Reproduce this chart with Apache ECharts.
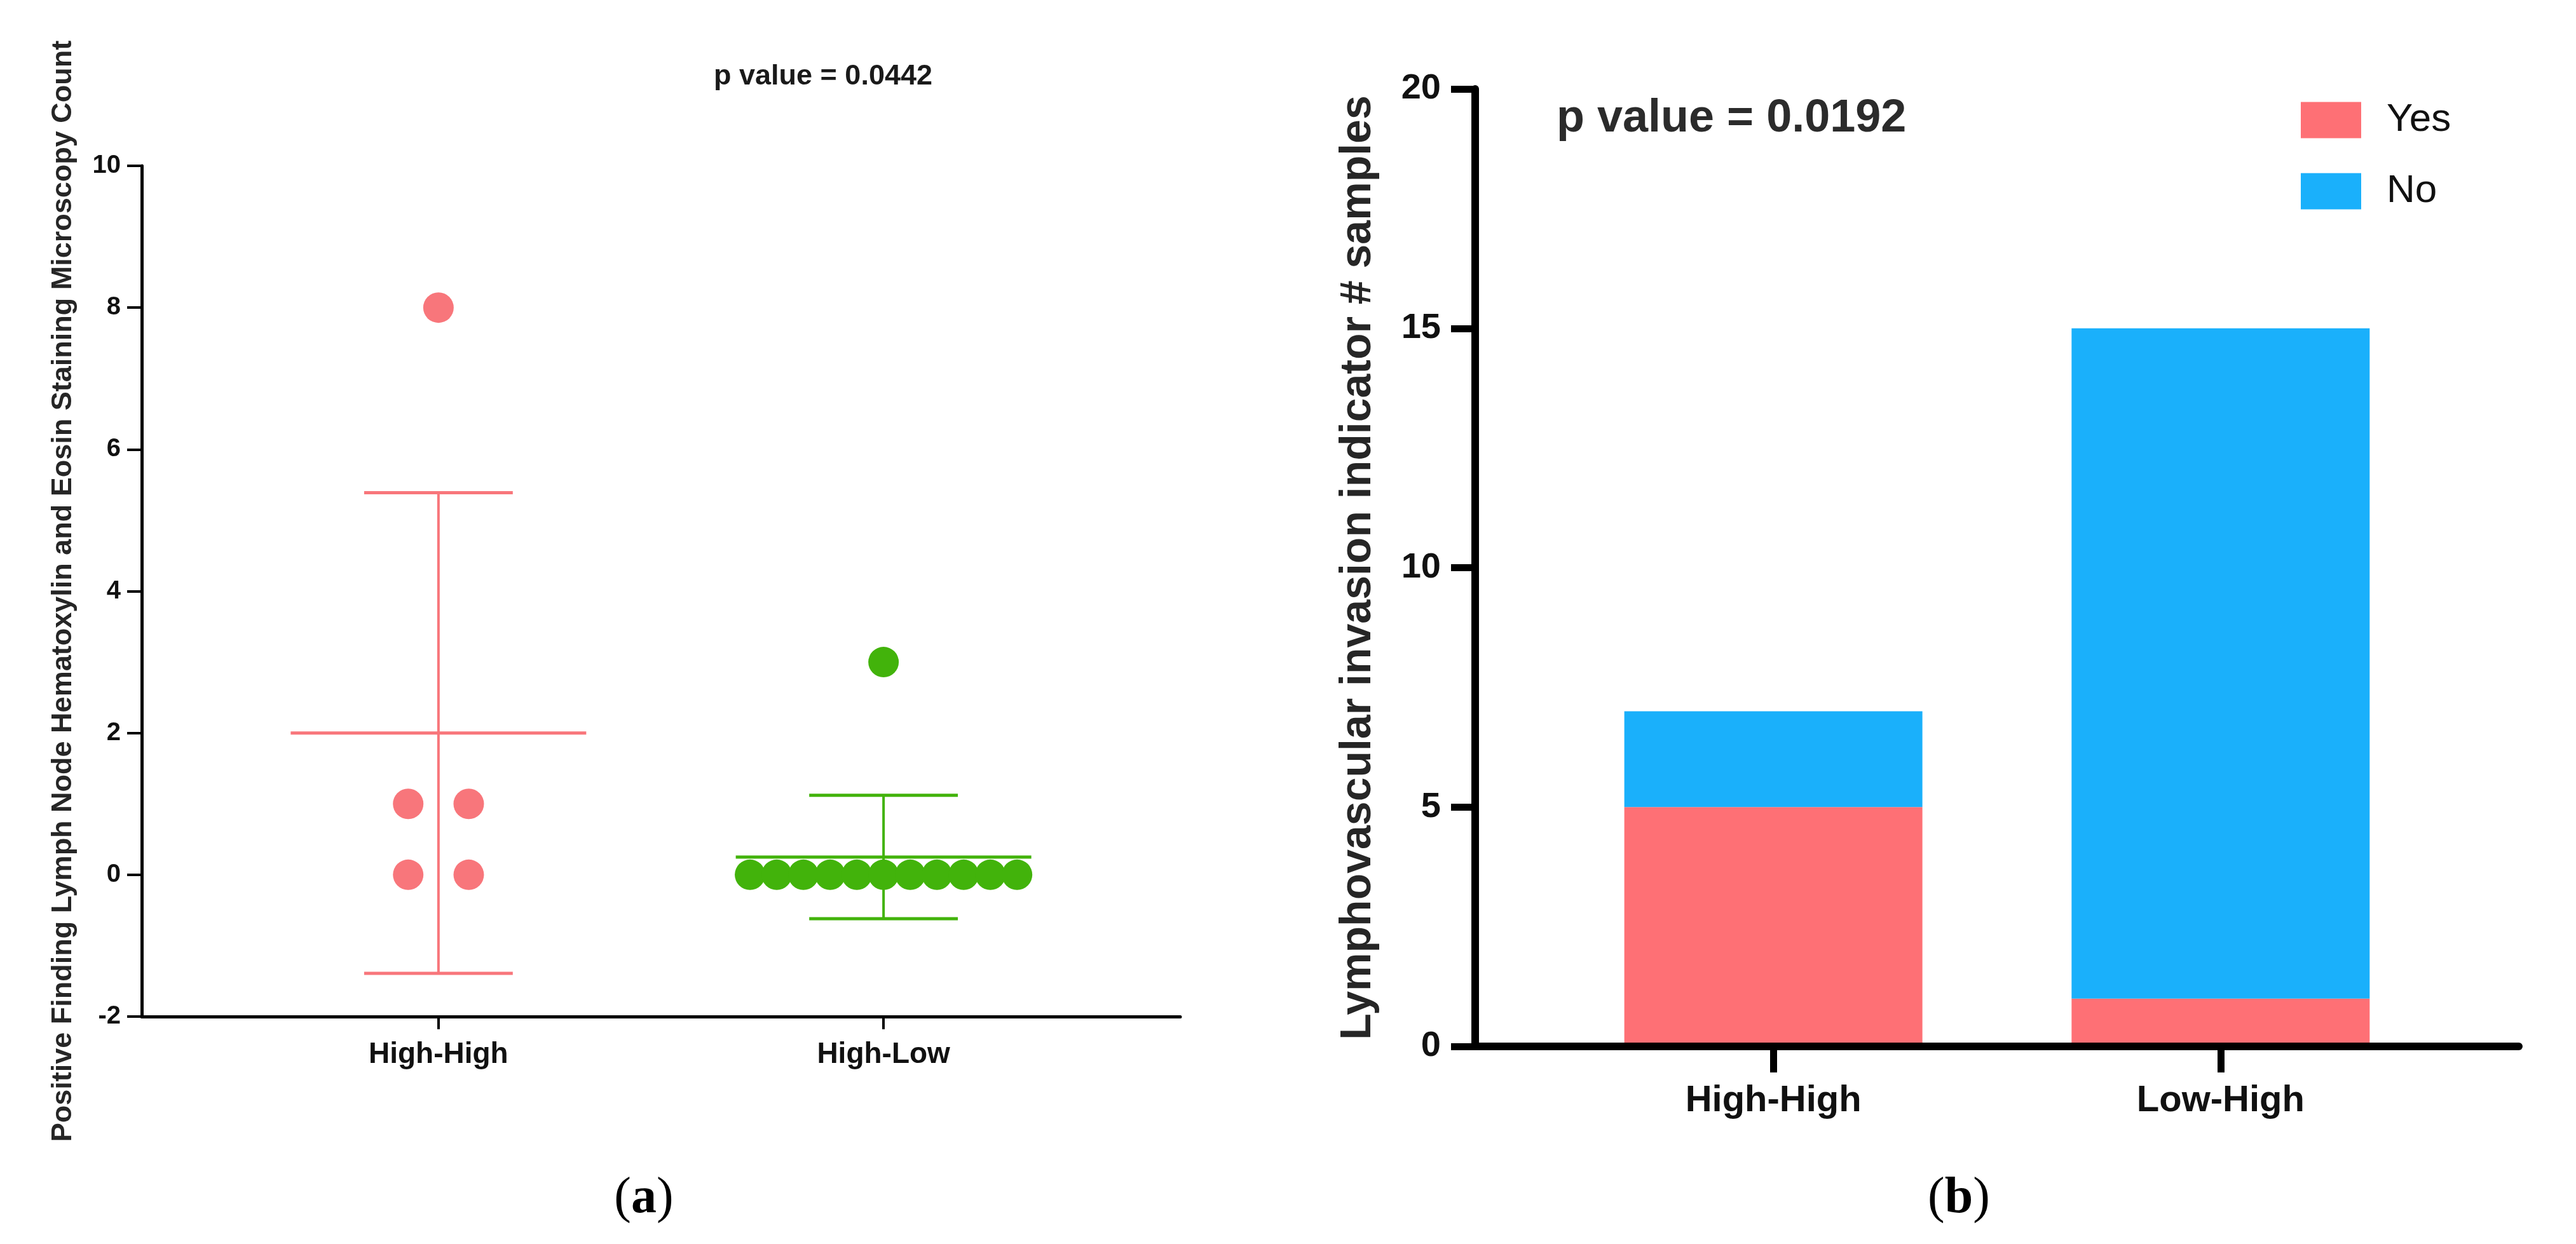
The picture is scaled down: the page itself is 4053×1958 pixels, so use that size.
<!DOCTYPE html>
<html><head><meta charset="utf-8">
<script src="https://cdn.jsdelivr.net/npm/echarts@6/dist/echarts.min.js"></script>
<style>html,body{margin:0;padding:0;background:#fff}#c{width:4053px;height:1958px}</style>
</head><body><div id="c"></div>
<script>
// ---- Panel (a) data ----
const groupsA = ['High-High', 'High-Low'];
const hhValues = [8, 1, 1, 0, 0];
const hhX = [1, 0.932, 1.068, 0.932, 1.068];
const hlValues = [3, 0, 0, 0, 0, 0, 0, 0, 0, 0, 0, 0];
const hlX = [2, 1.70, 1.76, 1.82, 1.88, 1.94, 2.00, 2.06, 2.12, 2.18, 2.24, 2.30];
const meanA = [2.0, 0.25];
const sdUpperA = [5.39, 1.12];
const sdLowerA = [-1.39, -0.62];
const yMinA = -2, yMaxA = 10, yStepA = 2;
const pTextA = 'p value = 0.0442';
const yTitleA = 'Positive Finding Lymph Node Hematoxylin and Eosin Staining Microscopy Count';

// ---- Panel (b) data ----
const groupsB = ['High-High', 'Low-High'];
const yesB = [5, 1];
const noB = [2, 14];
const yMinB = 0, yMaxB = 20, yStepB = 5;
const pTextB = 'p value = 0.0192';
const yTitleB = 'Lymphovascular invasion indicator # samples';

const colorsA = ['#F8767B', '#42B30B'];
const pinkB = '#FE7075', blueB = '#1AB0FB';
const FONT = 'Liberation Sans';

const chart = echarts.init(document.getElementById('c'), null, {renderer: 'canvas'});

const errData = groupsA.map((g, i) => [i + 1, meanA[i], sdUpperA[i], sdLowerA[i], i]);

function renderErr(params, api) {
  const x = api.value(0), m = api.value(1), u = api.value(2), l = api.value(3);
  const color = colorsA[api.value(4)];
  const pM = api.coord([x, m]), pU = api.coord([x, u]), pL = api.coord([x, l]);
  const s = api.size([1, 0])[0];
  const mw = 0.332 * s, cw = 0.167 * s;
  const st = (w) => ({stroke: color, lineWidth: w});
  return {type: 'group', children: [
    {type: 'line', shape: {x1: pU[0], y1: pU[1], x2: pL[0], y2: pL[1]}, style: st(4)},
    {type: 'line', shape: {x1: pM[0] - mw, y1: pM[1], x2: pM[0] + mw, y2: pM[1]}, style: st(5)},
    {type: 'line', shape: {x1: pU[0] - cw, y1: pU[1], x2: pU[0] + cw, y2: pU[1]}, style: st(5)},
    {type: 'line', shape: {x1: pL[0] - cw, y1: pL[1], x2: pL[0] + cw, y2: pL[1]}, style: st(5)}
  ]};
}

// bar data as [value, position] so the stacked dimension is the value (y)
const barData = (vals) => groupsB.map((g, i) => [vals[i], i + 1]);

const option = {
  backgroundColor: '#fff',
  animation: false,
  grid: [
    {left: 223, top: 261, width: 1634, height: 1339},
    {left: 2321, top: 140, width: 1642, height: 1507}
  ],
  xAxis: [
    {
      type: 'value', gridIndex: 0, min: 1 / 3, max: 8 / 3, z: 5,
      splitLine: {show: false},
      axisLine: {show: true, onZero: false, lineStyle: {color: '#000', width: 5}},
      axisTick: {show: true, customValues: [1, 2], length: 20, lineStyle: {color: '#000', width: 4}},
      axisLabel: {customValues: [1, 2], formatter: v => groupsA[Math.round(v) - 1],
        margin: 37, fontSize: 46, fontWeight: 'bold', color: '#111', fontFamily: FONT}
    },
    {
      type: 'value', gridIndex: 1, min: 1 / 3, max: 8 / 3, z: 5,
      splitLine: {show: false},
      axisLine: {show: true, onZero: false, lineStyle: {color: '#000', width: 12}},
      axisTick: {show: true, customValues: [1, 2], length: 41, lineStyle: {color: '#000', width: 11}},
      axisLabel: {customValues: [1, 2], formatter: v => groupsB[Math.round(v) - 1],
        margin: 57, fontSize: 58, fontWeight: 'bold', color: '#111', fontFamily: FONT}
    }
  ],
  yAxis: [
    {
      type: 'value', gridIndex: 0, min: yMinA, max: yMaxA, interval: yStepA, z: 5,
      splitLine: {show: false},
      axisLine: {show: true, onZero: false, lineStyle: {color: '#000', width: 5}},
      axisTick: {show: true, length: 23, lineStyle: {color: '#000', width: 4}},
      axisLabel: {margin: 33, fontSize: 40, fontWeight: 'bold', color: '#111', fontFamily: FONT},
      name: yTitleA, nameLocation: 'middle', nameGap: 101,
      nameTextStyle: {fontSize: 45, fontWeight: 'bold', color: '#262626', fontFamily: FONT}
    },
    {
      type: 'value', gridIndex: 1, min: yMinB, max: yMaxB, interval: yStepB, z: 5,
      splitLine: {show: false},
      axisLine: {show: true, onZero: false, lineStyle: {color: '#000', width: 12}},
      axisTick: {show: true, length: 38, lineStyle: {color: '#000', width: 11}},
      axisLabel: {margin: 54, fontSize: 56, fontWeight: 'bold', color: '#111', fontFamily: FONT},
      name: yTitleB, nameLocation: 'middle', nameGap: 150,
      nameTextStyle: {fontSize: 68, fontWeight: 'bold', color: '#262626', fontFamily: FONT}
    }
  ],
  legend: {
    data: ['Yes', 'No'], orient: 'vertical', left: 3620, top: 158, padding: 0,
    itemWidth: 95, itemHeight: 57, itemGap: 50, icon: 'rect', selectedMode: false,
    textStyle: {fontSize: 62, color: '#111', fontFamily: FONT, padding: [0, 0, 0, 35]}
  },
  graphic: [
    {type: 'text', x: 1295, y: 121, style: {text: pTextA, fontSize: 45, fontWeight: 'bold', fontFamily: FONT, fill: '#1a1a1a', align: 'center', verticalAlign: 'middle'}},
    {type: 'text', x: 2449, y: 187, style: {text: pTextB, fontSize: 72, fontWeight: 'bold', fontFamily: FONT, fill: '#2b2b2b', align: 'left', verticalAlign: 'middle'}},
    {type: 'text', x: 1013, y: 1887, style: {text: '{p|(}{b|a}{p|)}', align: 'center', verticalAlign: 'middle',
      rich: {p: {fontSize: 80, fontFamily: 'Liberation Serif', fill: '#000'}, b: {fontSize: 80, fontFamily: 'Liberation Serif', fontWeight: 'bold', fill: '#000'}}}},
    {type: 'text', x: 3082, y: 1887, style: {text: '{p|(}{b|b}{p|)}', align: 'center', verticalAlign: 'middle',
      rich: {p: {fontSize: 80, fontFamily: 'Liberation Serif', fill: '#000'}, b: {fontSize: 80, fontFamily: 'Liberation Serif', fontWeight: 'bold', fill: '#000'}}}}
  ],
  series: [
    {type: 'custom', xAxisIndex: 0, yAxisIndex: 0, data: errData, encode: {x: 0, y: [1, 2, 3]}, renderItem: renderErr, z: 2, silent: true},
    {type: 'scatter', name: groupsA[0], xAxisIndex: 0, yAxisIndex: 0, symbolSize: 48, z: 3,
      itemStyle: {color: colorsA[0], opacity: 1}, data: hhX.map((x, i) => [x, hhValues[i]])},
    {type: 'scatter', name: groupsA[1], xAxisIndex: 0, yAxisIndex: 0, symbolSize: 48, z: 3,
      itemStyle: {color: colorsA[1], opacity: 1}, data: hlX.map((x, i) => [x, hlValues[i]])},
    {type: 'bar', name: 'Yes', xAxisIndex: 1, yAxisIndex: 1, stack: 'b', barWidth: 469, z: 1,
      encode: {x: 1, y: 0}, itemStyle: {color: pinkB}, data: barData(yesB)},
    {type: 'bar', name: 'No', xAxisIndex: 1, yAxisIndex: 1, stack: 'b', barWidth: 469, z: 1,
      encode: {x: 1, y: 0}, itemStyle: {color: blueB}, data: barData(noB)}
  ]
};
chart.setOption(option);
</script></body></html>
